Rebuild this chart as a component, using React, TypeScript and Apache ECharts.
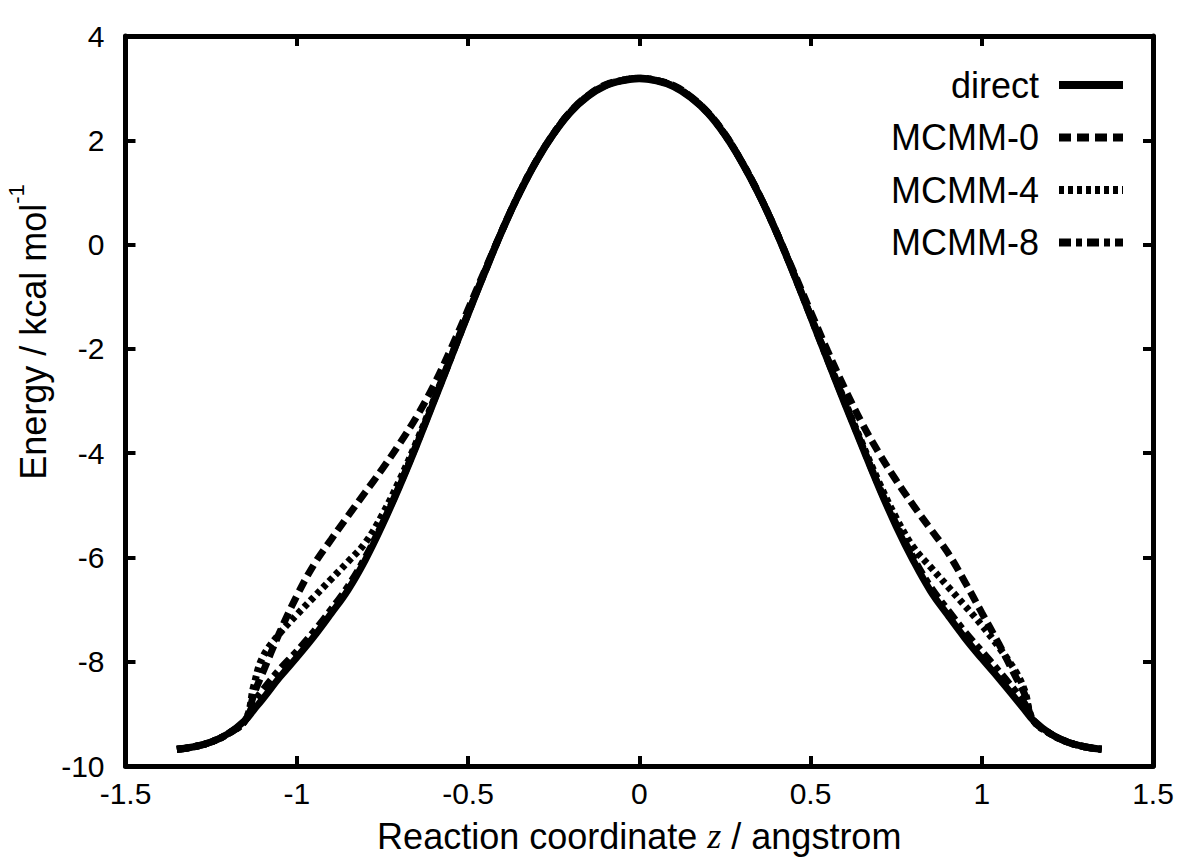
import React, { useEffect, useRef } from "react";
import * as echarts from "echarts";

// Reaction coordinate z (angstrom)
const zValues = [
  -1.35, -1.3, -1.25, -1.2, -1.15, -1.125, -1.1, -1.05, -1.0, -0.95, -0.9, -0.85, -0.8, -0.75, -0.7, -0.65, -0.6,
  -0.55, -0.5, -0.45, -0.4, -0.35, -0.3, -0.25, -0.2, -0.15, -0.1, -0.05, 0.0,
  0.05, 0.1, 0.15, 0.2, 0.25, 0.3, 0.35, 0.4, 0.45, 0.5, 0.55, 0.6, 0.65, 0.7, 0.75, 0.8, 0.85, 0.9, 0.95, 1.0,
  1.05, 1.1, 1.125, 1.15, 1.2, 1.25, 1.3, 1.35,
];

// Energies (kcal/mol)
const direct = [
  -9.68, -9.63, -9.54, -9.38, -9.12, -8.92, -8.72, -8.3, -7.92, -7.52, -7.08, -6.62, -6.05, -5.38, -4.64, -3.85, -3.02,
  -2.18, -1.34, -0.52, 0.27, 0.98, 1.6, 2.12, 2.54, 2.84, 3.04, 3.14, 3.18,
  3.14, 3.03, 2.82, 2.52, 2.1, 1.57, 0.95, 0.24, -0.55, -1.38, -2.22, -3.05, -3.86, -4.66, -5.4, -6.06, -6.64, -7.1,
  -7.54, -7.94, -8.32, -8.72, -8.92, -9.12, -9.38, -9.54, -9.63, -9.68,
];
const mcmm0 = [
  -9.68, -9.63, -9.54, -9.38, -9.12, -8.62, -8.22, -7.44, -6.74, -6.14, -5.66, -5.2, -4.75, -4.3, -3.82, -3.3, -2.7,
  -2.0, -1.25, -0.48, 0.28, 0.99, 1.61, 2.13, 2.56, 2.86, 3.06, 3.15, 3.19,
  3.15, 3.05, 2.84, 2.54, 2.12, 1.58, 0.96, 0.25, -0.51, -1.28, -2.04, -2.76, -3.42, -4.0, -4.52, -5.0, -5.45, -5.9,
  -6.46, -7.06, -7.66, -8.3, -8.62, -9.12, -9.38, -9.54, -9.63, -9.68,
];
const mcmm4 = [
  -9.68, -9.63, -9.54, -9.38, -9.12, -8.45, -7.92, -7.46, -7.1, -6.76, -6.42, -6.08, -5.72, -5.18, -4.52, -3.78, -2.98,
  -2.16, -1.32, -0.51, 0.28, 0.99, 1.61, 2.13, 2.55, 2.85, 3.05, 3.15, 3.19,
  3.15, 3.04, 2.83, 2.53, 2.11, 1.58, 0.96, 0.25, -0.54, -1.36, -2.19, -3.0, -3.8, -4.56, -5.24, -5.8, -6.18, -6.55,
  -6.92, -7.3, -7.72, -8.2, -8.55, -9.12, -9.38, -9.54, -9.63, -9.68,
];
const mcmm8 = [
  -9.68, -9.63, -9.54, -9.38, -9.12, -8.78, -8.55, -8.15, -7.8, -7.42, -7.0, -6.55, -6.0, -5.35, -4.62, -3.83, -3.0,
  -2.17, -1.33, -0.51, 0.28, 0.99, 1.61, 2.13, 2.55, 2.85, 3.05, 3.15, 3.19,
  3.15, 3.04, 2.83, 2.53, 2.11, 1.58, 0.96, 0.25, -0.54, -1.37, -2.21, -3.03, -3.84, -4.64, -5.36, -6.0, -6.56, -7.0,
  -7.42, -7.8, -8.18, -8.58, -8.8, -9.12, -9.38, -9.54, -9.63, -9.68,
];

const seriesNames = ["direct", "MCMM-0", "MCMM-4", "MCMM-8"];
const seriesValues = [direct, mcmm0, mcmm4, mcmm8];
const dashStyles: any[] = ["solid", [12, 6], [5, 4], [12, 5, 6, 5]];

const FONT = '"Liberation Sans", Arial, Helvetica, sans-serif';
const SERIF = '"Liberation Serif", "DejaVu Serif", serif';

export default function App() {
  const ref = useRef<HTMLDivElement>(null);

  useEffect(() => {
    if (!ref.current) return;
    const chart = echarts.init(ref.current, undefined, { renderer: "svg" });

    const axisCommon = {
      axisLine: { show: true, onZero: false, lineStyle: { color: "#000", width: 5 } },
      axisTick: { show: true, inside: true, length: 10, lineStyle: { color: "#000", width: 4 } },
      splitLine: { show: false },
    };

    const series = seriesNames.map((name, k) => ({
      name,
      type: "line",
      xAxisIndex: 0,
      yAxisIndex: 0,
      data: zValues.map((z, i) => [z, seriesValues[k][i]]),
      symbol: "none",
      smooth: 0.4,
      lineStyle: { color: "#000", width: 7, type: dashStyles[k], cap: "butt" },
      itemStyle: { color: "#000" },
      z: k === 0 ? 3 : 2,
    }));

    chart.setOption({
      animation: false,
      backgroundColor: "#fff",
      grid: { left: 125.5, right: 34, top: 36, bottom: 92, containLabel: false },
      xAxis: [
        {
          type: "value",
          position: "bottom",
          min: -1.5,
          max: 1.5,
          interval: 0.5,
          ...axisCommon,
          axisLabel: { show: true, margin: 12, fontSize: 30, fontFamily: FONT, color: "#000" },
          name: "{a|Reaction coordinate }{z|z}{a| / angstrom}",
          nameLocation: "middle",
          nameGap: 52,
          nameTextStyle: {
            rich: {
              a: { fontSize: 36, fontFamily: FONT, color: "#000" },
              z: { fontSize: 36, fontFamily: SERIF, fontStyle: "italic", color: "#000" },
            },
          },
        },
        {
          type: "value",
          position: "top",
          min: -1.5,
          max: 1.5,
          interval: 0.5,
          ...axisCommon,
          axisLabel: { show: false },
        },
      ],
      yAxis: [
        {
          type: "value",
          position: "left",
          min: -10,
          max: 4,
          interval: 2,
          ...axisCommon,
          axisLabel: { show: true, margin: 21, fontSize: 30, fontFamily: FONT, color: "#000" },
        },
        {
          type: "value",
          position: "right",
          min: -10,
          max: 4,
          interval: 2,
          ...axisCommon,
          axisLabel: { show: false },
        },
      ],
      legend: {
        orient: "vertical",
        right: 60,
        top: 65,
        align: "right",
        padding: 0,
        itemWidth: 64,
        itemHeight: 14,
        itemGap: 12.5,
        data: seriesNames,
        itemStyle: { opacity: 0, borderWidth: 0 },
        lineStyle: { width: 8, color: "#000", cap: "butt" },
        textStyle: { fontSize: 36, lineHeight: 40, fontFamily: FONT, color: "#000", padding: [0, 15, 0, 0] },
      },
      graphic: [
        {
          type: "text",
          x: 33,
          y: 332,
          rotation: Math.PI / 2,
          style: {
            text: "{a|Energy / kcal mol}{s|-1}",
            align: "center",
            verticalAlign: "middle",
            rich: {
              a: { fontSize: 36, lineHeight: 56, fontFamily: FONT, fill: "#000" },
              s: { fontSize: 22, lineHeight: 22, verticalAlign: "top", fontFamily: FONT, fill: "#000" },
            },
          },
        },
      ],
      series,
    });

    return () => chart.dispose();
  }, []);

  return (
    <div
      ref={ref}
      style={{ position: "absolute", left: 0, top: 0, width: 1187, height: 859, background: "#fff" }}
    />
  );
}
